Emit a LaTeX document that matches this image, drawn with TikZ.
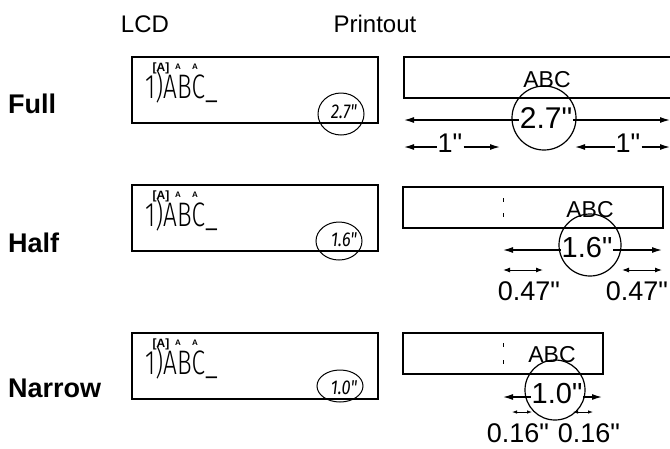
\documentclass[tikz,border=0pt]{standalone}
\usepackage{fontspec}
\setmainfont{Liberation Sans}[Ligatures=TeXOff]
\newfontfamily\lcdfont{Fira Sans}[UprightFont={* Light},ItalicFont={* Italic},Ligatures=TeXOff]
\usepackage{tikz}
\usetikzlibrary{math}
\usetikzlibrary{arrows.meta}
\newcommand{\fsz}[1]{\fontsize{#1}{#1}\selectfont}

\begin{document}
\begin{tikzpicture}[x=1pt,y=-1pt,
	title/.style={font=\fsz{24},anchor=base,inner sep=0pt},
	rowname/.style={font=\bfseries\fsz{27},anchor=base west,inner sep=0pt},
	lcdbox/.style={draw,line width=1.6pt},
	lcdtext/.style={font=\lcdfont\fsz{34},anchor=base west,inner sep=0pt,xscale=0.72},
	lcdtag/.style={font=\bfseries\fsz{#1},anchor=base,inner sep=0pt},
	lcdval/.style={font=\lcdfont\itshape\fsz{20},anchor=base,inner sep=0pt,xscale=0.82},
	ring/.style={line width=1pt},
	tape/.style={draw,line width=1.4pt},
	cut/.style={line width=1pt},
	abc/.style={font=\fsz{23},anchor=base,inner sep=0pt},
	width/.style={font=\fsz{30},anchor=base,fill=white,inner sep=1pt},
	margin/.style={font=\fsz{27},anchor=base,inner sep=1pt},
	measure/.style={line width=1.3pt,{Latex[length=10pt,width=6pt]}-{Latex[length=10pt,width=6pt]}},
	oneway/.style={line width=1.3pt,-{Latex[length=10pt,width=6pt]}},
	small/.style={line width=1pt,{Latex[length=7pt,width=5pt]}-{Latex[length=7pt,width=5pt]}},
	tiny/.style={line width=0.8pt,{Latex[length=5pt,width=3.5pt]}-{Latex[length=5pt,width=3.5pt]}}]
\useasboundingbox (0,0) rectangle (670,448);
\tikzmath{\lcdl = 132; \lcdr = 378; \lcdh = 66;}
% column heads
	\node[title] (lcdhead) at (145,32) {LCD};
	\node[title] (printhead) at (375,32) {Printout};
% row names
	\node[rowname] (full) at (8,113) {Full};
	\node[rowname] (half) at (8,252) {Half};
	\node[rowname] (narrow) at (8,397) {Narrow};
% LCD screens
	\foreach \i/\top/\val/\cx/\cy/\ry in {1/57/2.7/341/114/21, 2/185/1.6/339/241/19, 3/333/1.0/340/386/16}{
		\draw[lcdbox] (\lcdl,\top) rectangle (\lcdr,{\top+\lcdh});
		\node[lcdtag=12] (tag\i) at (161,{\top+14}) {[A]};
		\node[lcdtag=8] (tagb\i) at (178,{\top+12}) {A};
		\node[lcdtag=8] (tagc\i) at (195,{\top+12}) {A};
		\node[lcdtext] (line\i) at (145,{\top+41}) {1)ABC\_};
		\node[lcdval] (val\i) at (344,{\top+61}) {\val"};
		\draw[ring] (\cx,\cy) ellipse [x radius=23pt,y radius=\ry pt];
	}
% printout: full
	\draw[tape] (670,57) -- (404,57) -- (404,98) -- (670,98);
	\node[abc] (fullabc) at (547,87) {ABC};
	\coordinate (fullL) at (404,120);
	\coordinate (fullR) at (670,120);
	\draw[measure] (fullL) -- (fullR);
	\node[width] (fullw) at (546,128) {2.7"};
	\draw[ring,line width=1.2pt] (544,118) circle (32pt);
	\coordinate (fullmL) at (404,147);
	\coordinate (fullmLi) at (500,147);
	\coordinate (fullmRi) at (575,147);
	\coordinate (fullmR) at (670,147);
	\node[margin] (fullm1) at (450,152) {1"};
	\node[margin] (fullm2) at (628,152) {1"};
	\draw[oneway] (fullm1.west |- fullmL) -- (fullmL);
	\draw[oneway] (fullm1.east |- fullmLi) -- (fullmLi);
	\draw[oneway] (fullm2.west |- fullmRi) -- (fullmRi);
	\draw[oneway] (fullm2.east |- fullmR) -- (fullmR);
% printout: half
	\draw[tape] (403,187) rectangle (663,228);
	\draw[cut] (503,198) -- (503,202) (503,213) -- (503,217);
	\node[abc] (halfabc) at (590,217) {ABC};
	\coordinate (halfL) at (503,250);
	\coordinate (halfR) at (662,250);
	\draw[measure] (halfL) -- (halfR);
	\node[width,font=\fsz{29}] (halfw) at (587,257) {1.6"};
	\draw[ring,line width=1.2pt] (590,245) circle (31pt);
	\draw[small] (503,270) -- (543,270);
	\draw[small] (622,270) -- (662,270);
	\node[margin] (halfm1) at (529,300) {0.47"};
	\node[margin] (halfm2) at (637,300) {0.47"};
% printout: narrow
	\draw[tape] (403,333) rectangle (603,374);
	\draw[cut] (503,343) -- (503,347) (503,360) -- (503,364);
	\node[abc] (narrowabc) at (552,362) {ABC};
	\coordinate (narrowL) at (503,397);
	\coordinate (narrowR) at (602,397);
	\draw[measure] (narrowL) -- (narrowR);
	\node[width,font=\fsz{29}] (narroww) at (557,403) {1.0"};
	\draw[ring,line width=1.2pt] (555,390) circle (30pt);
	\draw[tiny] (512,412) -- (532,412);
	\draw[tiny] (573,412) -- (593,412);
	\node[margin] (narrowm1) at (518,442) {0.16"};
	\node[margin] (narrowm2) at (589,442) {0.16"};
\end{tikzpicture}
\end{document}
